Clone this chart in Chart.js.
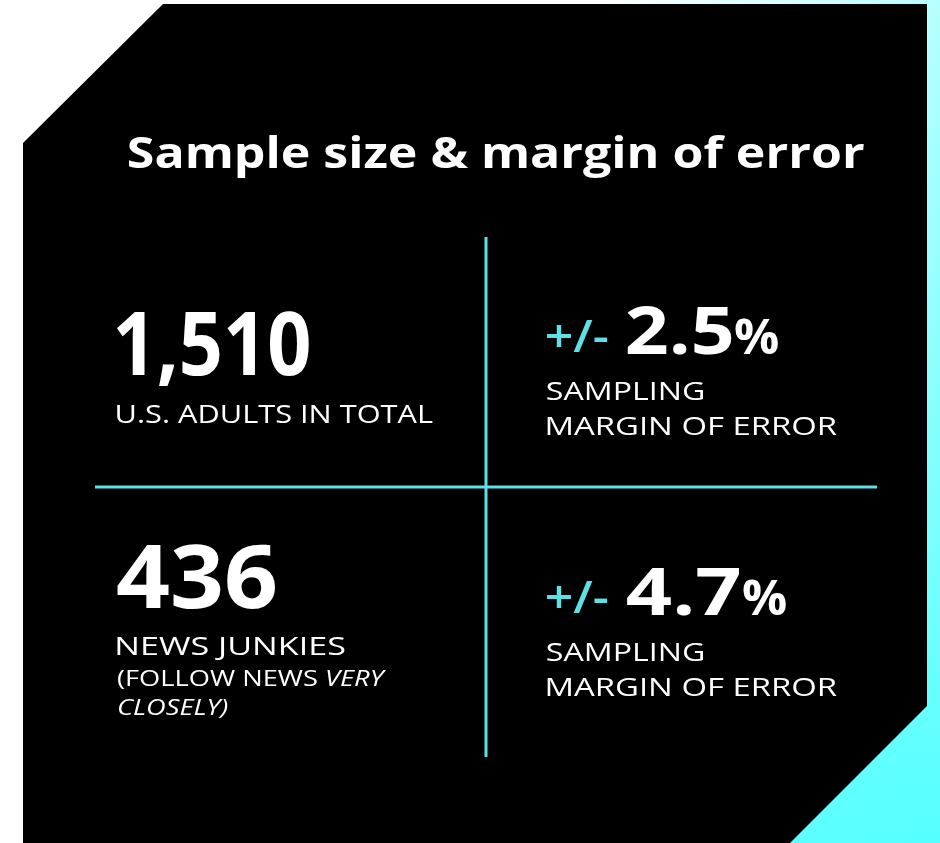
<!DOCTYPE html>
<html lang="en">
<head>
<meta charset="UTF-8">
<title>Sample size &amp; margin of error</title>
<script src="https://cdn.jsdelivr.net/npm/chart.js"></script>
<style>
  html, body { margin: 0; padding: 0; background: #fff; }
  canvas { display: block; }
</style>
</head>
<body>
<canvas id="chart" width="940" height="843"></canvas>
<script>
// ---- data ----
const titleText = 'Sample size & margin of error';
const sampleSizes = [1510, 436];
const sampleLabels = ['U.S. ADULTS IN TOTAL', 'NEWS JUNKIES'];
const sampleNotes = [null, [[['(FOLLOW NEWS ', false], ['VERY', true]], [['CLOSELY)', true]]]];
const marginsOfError = [2.5, 4.7];
const marginLabels = ['SAMPLING', 'MARGIN OF ERROR'];
const rowTops = [2, 1];   // grid rows (y units), each cell is 1 x 1

const CYAN = '#5ce1e6';
const FONT = '"Open Sans", "Liberation Sans", sans-serif';

// ink widths of the strings in the original artwork (it uses a wider geometric font)
const inkWidth = {
    title: 736,
    '1,510': 192, '436': 158,
    'U.S. ADULTS IN TOTAL': 316, 'NEWS JUNKIES': 228,
    note: 270, 'CLOSELY)': 116,
    '+/-': 61, '2.5': 105, '4.7': 113, '%': 43,
    'SAMPLING': 156, 'MARGIN OF ERROR': 290
};

// draw text so that its ink starts at `left` and spans `width` px
function drawInk(ctx, text, left, base, width) {
    const m = ctx.measureText(text);
    const ink = m.actualBoundingBoxLeft + m.actualBoundingBoxRight;
    const sx = width ? width / ink : 1;
    ctx.save();
    ctx.translate(left, base);
    ctx.scale(sx, 1);
    ctx.fillText(text, m.actualBoundingBoxLeft, 0);
    ctx.restore();
    return left + ink * sx;
}

const infographic = {
    id: 'infographic',
    beforeDraw(chart) {
        const ctx = chart.ctx;
        const w = chart.width, h = chart.height;
        ctx.save();
        ctx.fillStyle = '#fff';
        ctx.fillRect(0, 0, w, h);
        const g = ctx.createLinearGradient(600, 0, w, h);
        g.addColorStop(0, '#ffffff');
        g.addColorStop(0.14, '#b8ffff');
        g.addColorStop(1, '#55ffff');
        ctx.fillStyle = g;
        ctx.fillRect(600, 0, w - 600, h);
        // black card with two clipped corners
        ctx.fillStyle = '#000';
        ctx.beginPath();
        ctx.moveTo(163, 4);
        ctx.lineTo(927, 4);
        ctx.lineTo(927, 706);
        ctx.lineTo(790, h);
        ctx.lineTo(23, h);
        ctx.lineTo(23, 143);
        ctx.closePath();
        ctx.fill();
        ctx.restore();
    },
    afterDatasetsDraw(chart) {
        const ctx = chart.ctx;
        ctx.save();
        ctx.textAlign = 'left';
        ctx.textBaseline = 'alphabetic';
        ctx.fillStyle = '#fff';

        // title
        ctx.font = '700 43px ' + FONT;
        drawInk(ctx, titleText, 128, 168, inkWidth.title);

        const bigFont = '700 87px ' + FONT;
        const labelFont = '400 25px ' + FONT;
        const noteFont = '400 22px ' + FONT;
        const noteItalic = 'italic 400 22px ' + FONT;
        const moeFont = '700 67px ' + FONT;
        const pmFont = '600 46px ' + FONT;
        const pctFont = '700 48px ' + FONT;

        const sizeMeta = chart.getDatasetMeta(2);
        const moeMeta = chart.getDatasetMeta(3);
        const numBase = [138, 121];
        const labelBase = [186, 168];
        const moeBase = [117, 128];

        sampleSizes.forEach((v, i) => {
            const pt = sizeMeta.data[i];
            const x = pt.x + 22;
            const txt = v.toLocaleString('en-US');
            ctx.font = bigFont;
            drawInk(ctx, txt, x, pt.y + numBase[i], inkWidth[txt]);
            ctx.font = labelFont;
            let y = pt.y + labelBase[i];
            drawInk(ctx, sampleLabels[i], x, y, inkWidth[sampleLabels[i]]);

            if (sampleNotes[i]) {
                // first note line sets the stretch for the whole note
                ctx.font = noteFont;
                const first = sampleNotes[i][0];
                ctx.font = noteFont;
                const w1 = ctx.measureText(first[0][0]).width;
                ctx.font = noteItalic;
                const m2 = ctx.measureText(first[1][0]);
                const sx = inkWidth.note / (w1 + m2.actualBoundingBoxRight);
                sampleNotes[i].forEach((line, li) => {
                    y += li === 0 ? 31 : 29;
                    let nx = x;
                    line.forEach(([text, italic]) => {
                        ctx.font = italic ? noteItalic : noteFont;
                        ctx.save();
                        ctx.translate(nx, y);
                        ctx.scale(sx, 1);
                        ctx.fillText(text, 0, 0);
                        ctx.restore();
                        nx += ctx.measureText(text).width * sx;
                    });
                });
            }
        });

        marginsOfError.forEach((v, i) => {
            const pt = moeMeta.data[i];
            const base = pt.y + moeBase[i];
            const txt = v.toFixed(1);
            ctx.fillStyle = CYAN;
            ctx.font = pmFont;
            drawInk(ctx, '+/-', pt.x + 61, base - 2, inkWidth['+/-']);
            ctx.fillStyle = '#fff';
            ctx.font = moeFont;
            const right = drawInk(ctx, txt, pt.x + 141, base, inkWidth[txt]);
            ctx.font = pctFont;
            drawInk(ctx, '%', right + 3, base, inkWidth['%']);

            ctx.font = '400 26px ' + FONT;
            marginLabels.forEach((t, k) => {
                drawInk(ctx, t, pt.x + 61, base + 46 + k * 34.5, inkWidth[t]);
            });
        });
        ctx.restore();
    }
};

new Chart(document.getElementById('chart'), {
    type: 'scatter',
    data: {
        datasets: [
            {   // vertical divider
                data: [{ x: 1, y: -0.08 }, { x: 1, y: 2 }],
                showLine: true, borderColor: CYAN, borderWidth: 3, pointRadius: 0
            },
            {   // horizontal divider
                data: [{ x: 0, y: 1 }, { x: 2, y: 1 }],
                showLine: true, borderColor: CYAN, borderWidth: 3, pointRadius: 0
            },
            {   // sample sizes, left column
                label: 'Sample size',
                data: sampleSizes.map((v, i) => ({ x: 0, y: rowTops[i] })),
                pointRadius: 0
            },
            {   // margins of error, right column
                label: 'Margin of error',
                data: marginsOfError.map((v, i) => ({ x: 1, y: rowTops[i] })),
                pointRadius: 0
            }
        ]
    },
    options: {
        responsive: false,
        animation: false,
        layout: { padding: { left: 95, right: 63, top: 237, bottom: 86 } },
        scales: {
            x: { display: false, min: 0, max: 2 },
            y: { display: false, min: -0.08, max: 2 }
        },
        plugins: {
            legend: { display: false },
            tooltip: { enabled: false },
            title: { display: false }
        }
    },
    plugins: [infographic]
});
</script>
</body>
</html>
